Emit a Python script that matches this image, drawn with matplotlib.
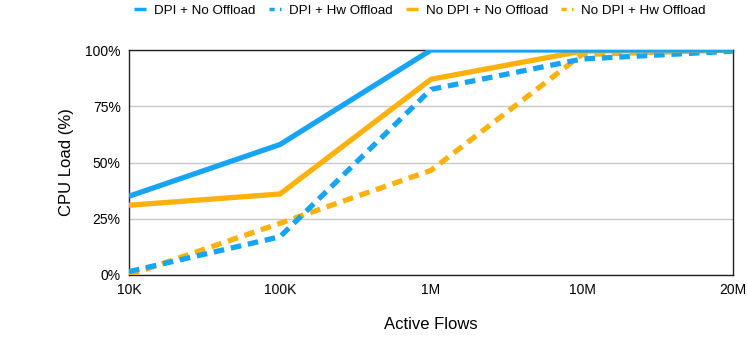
import matplotlib
matplotlib.use("Agg")
import matplotlib.pyplot as plt
from matplotlib.lines import Line2D

plt.rcParams['font.family'] = ['Liberation Sans', 'DejaVu Sans']

categories = ["10K", "100K", "1M", "10M", "20M"]
dpi_no_offload = [35, 58, 100, 100, 100]
dpi_hw_offload = [1.5, 17, 82.5, 96, 99.5]
nodpi_no_offload = [31, 36, 87, 99.5, 100]
nodpi_hw_offload = [0, 23, 46.5, 98, 100]
yticks = [0, 25, 50, 75, 100]
ytick_labels = ["0%", "25%", "50%", "75%", "100%"]
series_names = ["DPI + No Offload", "DPI + Hw Offload", "No DPI + No Offload", "No DPI + Hw Offload"]

blue = "#18A4F4"
orange = "#FDB10D"

fig = plt.figure(figsize=(7.47, 3.4), dpi=100)
ax = fig.add_axes([129/747, 1-275/340, (733-129)/747, (275-50)/340])

x = list(range(len(categories)))
lw = 3.8
dash = (0, (2.0, 1.3))
ax.plot(x, dpi_no_offload, color=blue, lw=lw, solid_capstyle='butt', zorder=5)
ax.plot(x, dpi_hw_offload, color=blue, lw=lw, ls=dash, zorder=4)
ax.plot(x, nodpi_no_offload, color=orange, lw=lw, solid_capstyle='butt', zorder=4)
ax.plot(x, nodpi_hw_offload, color=orange, lw=lw, ls=dash, zorder=3)

ax.set_xlim(0, len(categories)-1)
ax.set_ylim(0, 100)
ax.set_xticks(x)
ax.set_xticklabels(categories, fontsize=10)
ax.set_yticks(yticks)
ax.set_yticklabels(ytick_labels, fontsize=10)
ax.tick_params(length=0, pad=6)
ax.grid(axis='y', color='#c8c8c8', lw=1)
ax.set_axisbelow(True)
for s in ax.spines.values():
    s.set_color('#222222')
    s.set_linewidth(1.0)

ax.set_xlabel("Active Flows", fontsize=12, labelpad=14)
ax.set_ylabel("CPU Load (%)", fontsize=12, labelpad=8)

hdash = (0, (1.5, 1.5))
handles = [
    Line2D([], [], color=blue, lw=2.5, solid_capstyle='butt'),
    Line2D([], [], color=blue, lw=2.5, ls=hdash),
    Line2D([], [], color=orange, lw=2.5, solid_capstyle='butt'),
    Line2D([], [], color=orange, lw=2.5, ls=hdash),
]
fig.legend(handles, series_names, loc='upper center', bbox_to_anchor=(420/747, 1.022), ncol=4,
           frameon=False, fontsize=9.6, handlelength=0.9, handletextpad=0.6, columnspacing=1.0)

fig.savefig("out.png", dpi=100)
